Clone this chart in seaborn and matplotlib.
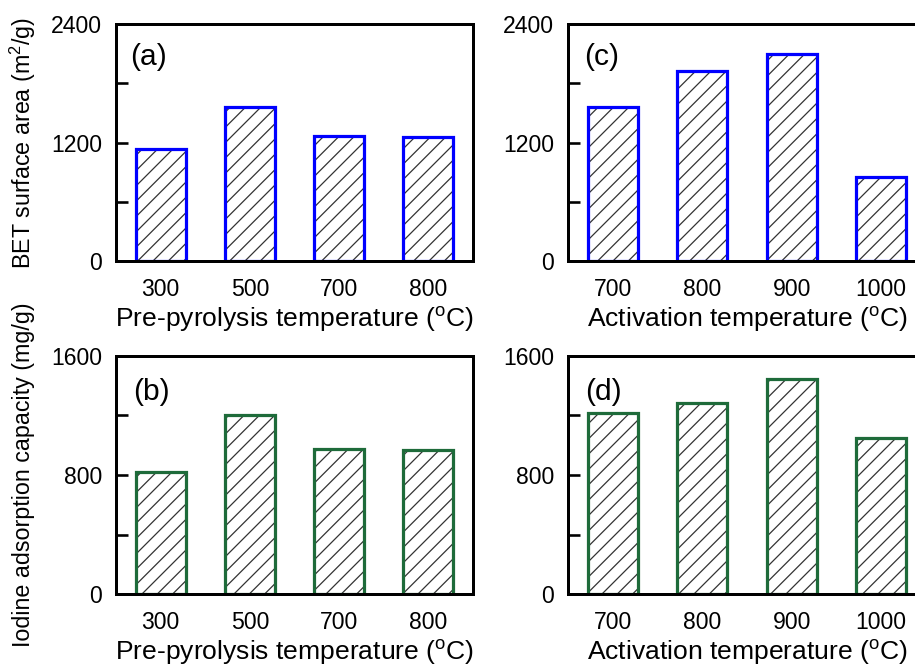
import numpy as np
import pandas as pd
import matplotlib
matplotlib.use("Agg")
import matplotlib.pyplot as plt
import seaborn as sns

# ---------------- data ----------------
pre_temps = ["300", "500", "700", "800"]
bet_pre = [1135, 1560, 1270, 1255]
iod_pre = [820, 1200, 975, 965]

act_temps = ["700", "800", "900", "1000"]
bet_act = [1560, 1920, 2100, 855]
iod_act = [1215, 1280, 1445, 1045]

bet_ticks = [0, 600, 1200, 1800, 2400]
bet_ticklabels = ["0", "", "1200", "", "2400"]
iod_ticks = [0, 400, 800, 1200, 1600]
iod_ticklabels = ["0", "", "800", "", "1600"]

xlabel_pre = r"Pre-pyrolysis temperature ($\mathregular{^o}$C)"
xlabel_act = r"Activation temperature ($\mathregular{^o}$C)"
ylabel_bet = r"BET surface area (m$\mathregular{^2}$/g)"
ylabel_iod = "Iodine adsorption capacity (mg/g)"

# ---------------- style ----------------
DPI = 138
W, H = 915, 666


def pt(px):
    return px * 72.0 / DPI


sns.set_style("ticks")
plt.rcParams["font.family"] = ["Liberation Sans", "DejaVu Sans"]
plt.rcParams["mathtext.default"] = "regular"
plt.rcParams["hatch.color"] = "#333333"
plt.rcParams["hatch.linewidth"] = 0.65
for key in ["text.color", "axes.labelcolor", "xtick.color", "ytick.color",
            "axes.edgecolor"]:
    plt.rcParams[key] = "black"

BLUE = "#0000ff"
GREEN = "#1e6b3a"

fig = plt.figure(figsize=(W / DPI, H / DPI), dpi=DPI)
fig.patch.set_facecolor("white")


def make_axes(left_px, top_px, bottom_px, right_px):
    return fig.add_axes([left_px / W, 1 - bottom_px / H,
                         (right_px - left_px) / W, (bottom_px - top_px) / H])


ax_a = make_axes(116, 24, 261, 473)
ax_c = make_axes(568, 24, 261, 926)
ax_b = make_axes(116, 355.7, 594.3, 473)
ax_d = make_axes(568, 355.7, 594.3, 926)

panels = [
    (ax_a, pre_temps, bet_pre, BLUE, 2400, bet_ticks, bet_ticklabels, xlabel_pre, ylabel_bet, "(a)", 0.039, 0.827),
    (ax_c, act_temps, bet_act, BLUE, 2400, bet_ticks, bet_ticklabels, xlabel_act, None, "(c)", 0.045, 0.827),
    (ax_b, pre_temps, iod_pre, GREEN, 1600, iod_ticks, iod_ticklabels, xlabel_pre, ylabel_iod, "(b)", 0.047, 0.814),
    (ax_d, act_temps, iod_act, GREEN, 1600, iod_ticks, iod_ticklabels, xlabel_act, None, "(d)", 0.048, 0.814),
]

for ax, cats, vals, ecol, ymax, yt, ytl, xl, yl, tag, tx, ty in panels:
    df = pd.DataFrame({"cat": cats, "val": vals})
    # hatched fill layer
    sns.barplot(data=df, x="cat", y="val", order=cats, ax=ax, color="white",
                saturation=1, width=0.56, edgecolor="#333333", linewidth=0,
                errorbar=None)
    # outline layer
    sns.barplot(data=df, x="cat", y="val", order=cats, ax=ax, color="white",
                saturation=1, width=0.56, edgecolor=ecol, linewidth=pt(3.2),
                errorbar=None)
    for bar in ax.containers[-1]:
        bar.set_facecolor("none")
        bar.set_edgecolor(ecol)
    for bar in ax.containers[0]:
        bar.set_hatch("///")

    ax.set_xlim(-0.5, 3.5)
    ax.set_ylim(0, ymax)
    ax.set_yticks(yt)
    ax.set_yticklabels(ytl)
    for s in ax.spines.values():
        s.set_visible(True)
        s.set_linewidth(pt(3))
        s.set_color("black")
    ax.tick_params(axis="y", direction="in", length=pt(12), width=pt(2.6),
                   labelsize=pt(23), pad=pt(14), colors="black")
    ax.tick_params(axis="x", length=0, labelsize=pt(23), pad=pt(17),
                   colors="black")
    ax.set_xlabel(xl, fontsize=pt(26.5), labelpad=pt(3.5), color="black")
    if yl:
        ax.set_ylabel(yl, fontsize=pt(23.3), color="black")
        ax.yaxis.set_label_coords(-0.2605, 0.5)
        ax.yaxis.label.set_verticalalignment("center")
    else:
        ax.set_ylabel("")
    ax.text(tx, ty, tag, transform=ax.transAxes, fontsize=pt(30),
            ha="left", va="baseline", color="black")
    ax.set_facecolor("white")
    ax.grid(False)

fig.savefig("out.png", dpi=DPI, facecolor="white")
